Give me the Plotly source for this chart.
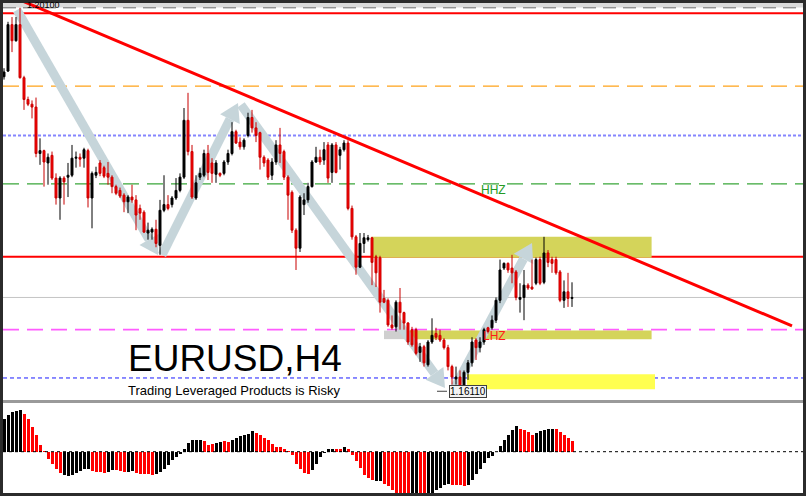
import plotly.graph_objects as go

# ---------------- data (EURUSD H4) ----------------
opens = [1.1943, 1.1949, 1.1998, 1.1981, 1.1998, 1.1942, 1.1919, 1.1914, 1.1911, 1.1862,
         1.1865, 1.1852, 1.1860, 1.1836, 1.1815, 1.1836, 1.1837, 1.1839, 1.1857, 1.1858,
         1.1857, 1.1865, 1.1815, 1.1839, 1.1852, 1.1847, 1.1841, 1.1837, 1.1827, 1.1823,
         1.1818, 1.1811, 1.1816, 1.1813, 1.1804, 1.1800, 1.1778, 1.1779, 1.1782, 1.1765,
         1.1802, 1.1808, 1.1808, 1.1815, 1.1823, 1.1837, 1.1897, 1.1864, 1.1815, 1.1837,
         1.1839, 1.1862, 1.1852, 1.1840, 1.1841, 1.1841, 1.1853, 1.1862, 1.1885, 1.1874,
         1.1869, 1.1881, 1.1900, 1.1889, 1.1884, 1.1858, 1.1855, 1.1839, 1.1853, 1.1871,
         1.1864, 1.1837, 1.1821, 1.1781, 1.1762, 1.1808, 1.1813, 1.1827, 1.1853, 1.1858,
         1.1855, 1.1871, 1.1842, 1.1871, 1.1860, 1.1866, 1.1873, 1.1804, 1.1774, 1.1742,
         1.1767, 1.1771, 1.1773, 1.1753, 1.1752, 1.1709, 1.1707, 1.1681, 1.1679, 1.1705,
         1.1694, 1.1683, 1.1676, 1.1676, 1.1652, 1.1658, 1.1639, 1.1663, 1.1672, 1.1670,
         1.1665, 1.1657, 1.1637, 1.1624, 1.1626, 1.1615, 1.1631, 1.1641, 1.1665, 1.1657,
         1.1663, 1.1678, 1.1678, 1.1686, 1.1707, 1.1741, 1.1746, 1.1741, 1.1737, 1.1708,
         1.1710, 1.1723, 1.1721, 1.1725, 1.1750, 1.1726, 1.1757, 1.1750, 1.1750, 1.1737,
         1.1707, 1.1716, 1.1709]
highs = [1.1952, 1.2001, 1.2006, 1.2006, 1.2016, 1.1944, 1.1922, 1.1918, 1.1921, 1.1878,
         1.1866, 1.1862, 1.1864, 1.1841, 1.1838, 1.1838, 1.1852, 1.1871, 1.1864, 1.1862,
         1.1868, 1.1867, 1.1843, 1.1848, 1.1855, 1.1849, 1.1853, 1.1839, 1.1829, 1.1826,
         1.1820, 1.1818, 1.1829, 1.1818, 1.1808, 1.1802, 1.1789, 1.1784, 1.1792, 1.1813,
         1.1839, 1.1818, 1.1817, 1.1836, 1.1841, 1.1910, 1.1926, 1.1871, 1.1839, 1.1847,
         1.1866, 1.1871, 1.1857, 1.1855, 1.1842, 1.1855, 1.1866, 1.1895, 1.1887, 1.1879,
         1.1878, 1.1905, 1.1908, 1.1895, 1.1885, 1.1860, 1.1857, 1.1857, 1.1876, 1.1889,
         1.1866, 1.1839, 1.1823, 1.1783, 1.1818, 1.1820, 1.1831, 1.1855, 1.1869, 1.1866,
         1.1874, 1.1874, 1.1873, 1.1874, 1.1869, 1.1876, 1.1876, 1.1807, 1.1776, 1.1778,
         1.1778, 1.1776, 1.1774, 1.1755, 1.1754, 1.1718, 1.1709, 1.1691, 1.1707, 1.1720,
         1.1695, 1.1684, 1.1679, 1.1678, 1.1662, 1.1660, 1.1665, 1.1688, 1.1678, 1.1676,
         1.1667, 1.1660, 1.1639, 1.1637, 1.1633, 1.1633, 1.1644, 1.1668, 1.1667, 1.1668,
         1.1678, 1.1679, 1.1691, 1.1710, 1.1750, 1.1747, 1.1747, 1.1755, 1.1739, 1.1725,
         1.1739, 1.1725, 1.1750, 1.1752, 1.1753, 1.1774, 1.1760, 1.1753, 1.1753, 1.1739,
         1.1728, 1.1736, 1.1726]
lows = [1.1940, 1.1948, 1.1969, 1.1980, 1.1941, 1.1908, 1.1912, 1.1899, 1.1858, 1.1850,
        1.1827, 1.1829, 1.1834, 1.1808, 1.1792, 1.1808, 1.1816, 1.1837, 1.1847, 1.1848,
        1.1847, 1.1805, 1.1783, 1.1836, 1.1838, 1.1836, 1.1829, 1.1820, 1.1818, 1.1815,
        1.1800, 1.1799, 1.1810, 1.1781, 1.1792, 1.1778, 1.1771, 1.1771, 1.1763, 1.1755,
        1.1800, 1.1802, 1.1805, 1.1813, 1.1821, 1.1835, 1.1860, 1.1814, 1.1813, 1.1834,
        1.1837, 1.1834, 1.1831, 1.1831, 1.1837, 1.1839, 1.1850, 1.1860, 1.1872, 1.1866,
        1.1866, 1.1879, 1.1884, 1.1874, 1.1845, 1.1848, 1.1834, 1.1834, 1.1850, 1.1852,
        1.1834, 1.1792, 1.1778, 1.1739, 1.1758, 1.1797, 1.1810, 1.1826, 1.1852, 1.1850,
        1.1850, 1.1831, 1.1831, 1.1841, 1.1845, 1.1864, 1.1802, 1.1771, 1.1734, 1.1741,
        1.1757, 1.1769, 1.1723, 1.1721, 1.1694, 1.1704, 1.1679, 1.1676, 1.1674, 1.1676,
        1.1676, 1.1660, 1.1658, 1.1649, 1.1642, 1.1637, 1.1637, 1.1661, 1.1665, 1.1663,
        1.1655, 1.1633, 1.1618, 1.1618, 1.1613, 1.1611, 1.1623, 1.1637, 1.1644, 1.1652,
        1.1660, 1.1672, 1.1676, 1.1683, 1.1704, 1.1739, 1.1736, 1.1725, 1.1707, 1.1694,
        1.1686, 1.1718, 1.1718, 1.1723, 1.1723, 1.1724, 1.1742, 1.1736, 1.1734, 1.1705,
        1.1699, 1.1700, 1.1700]
closes = [1.1948, 1.1998, 1.1981, 1.1998, 1.1942, 1.1919, 1.1914, 1.1911, 1.1862, 1.1865,
          1.1853, 1.1858, 1.1836, 1.1815, 1.1836, 1.1832, 1.1839, 1.1857, 1.1858, 1.1856,
          1.1866, 1.1815, 1.1841, 1.1842, 1.1841, 1.1838, 1.1837, 1.1827, 1.1820, 1.1817,
          1.1811, 1.1816, 1.1813, 1.1797, 1.1799, 1.1779, 1.1781, 1.1782, 1.1767, 1.1802,
          1.1808, 1.1804, 1.1815, 1.1823, 1.1837, 1.1897, 1.1864, 1.1816, 1.1831, 1.1841,
          1.1862, 1.1842, 1.1841, 1.1852, 1.1839, 1.1853, 1.1862, 1.1885, 1.1873, 1.1869,
          1.1876, 1.1900, 1.1889, 1.1881, 1.1858, 1.1852, 1.1837, 1.1853, 1.1871, 1.1862,
          1.1837, 1.1818, 1.1781, 1.1762, 1.1816, 1.1813, 1.1827, 1.1853, 1.1858, 1.1853,
          1.1866, 1.1836, 1.1871, 1.1842, 1.1866, 1.1873, 1.1804, 1.1774, 1.1742, 1.1767,
          1.1773, 1.1773, 1.1747, 1.1736, 1.1705, 1.1705, 1.1681, 1.1678, 1.1705, 1.1694,
          1.1683, 1.1663, 1.1660, 1.1651, 1.1658, 1.1641, 1.1663, 1.1670, 1.1668, 1.1665,
          1.1657, 1.1637, 1.1626, 1.1626, 1.1615, 1.1631, 1.1641, 1.1663, 1.1657, 1.1663,
          1.1676, 1.1674, 1.1686, 1.1707, 1.1739, 1.1746, 1.1739, 1.1736, 1.1710, 1.1710,
          1.1723, 1.1720, 1.1719, 1.1750, 1.1725, 1.1757, 1.1747, 1.1746, 1.1736, 1.1707,
          1.1716, 1.1709, 1.1710]

# oscillator histogram (lower window) and its colour state (1 = black, 0 = red)
osc = [33, 37, 40, 41, 42, 38, 33, 25, 17, 7,
       0.3, -7, -12, -17, -21, -23, -24, -23, -21, -19,
       -17, -17, -19, -20, -20, -21, -20, -18, -18, -19,
       -20, -20, -19, -21, -22, -22, -22, -23, -22, -20,
       -17, -13, -8, -5, -2, 3, 9, 12, 12, 12,
       11, 7, 8, 9, 10, 11, 10, 12, 14, 16,
       17, 18, 21, 19, 17, 14, 12, 8, 5, 5,
       3, 0.3, -3, -12, -17, -21, -22, -18, -12, -5,
       -1, 3, 3, 3, 3, 5, 3, -3, -9, -16,
       -23, -26, -28, -29, -29, -32, -34, -38, -42, -44,
       -44, -44, -44, -45, -45, -45, -44, -45, -38, -36,
       -33, -32, -33, -33, -33, -34, -33, -28, -22, -17,
       -11, -6, -4, -0.3, 6, 12, 17, 22, 26, 23,
       22, 20, 17, 19, 21, 22, 23, 23, 23, 20,
       17, 14, 11]
osc_state = ([1] * 5 + [0] * 10 + [1] * 7 + [0] * 4 + [1] * 2 + [0] * 3 + [1] * 2 + [0] * 5 +
             [1] * 12 + [0] * 3 + [1] * 2 + [0] * 2 + [1] * 6 + [0] * 14 + [1] * 6 + [0] * 2 +
             [1] * 1 + [0] * 7 + [1] * 2 + [0] * 7 + [1] * 2 + [0] * 2 + [1] * 6 + [0] * 4 +
             [1] * 13 + [0] * 4 + [1] * 5 + [0] * 5)

# horizontal levels (prices)
LVL_TOP_DASH = 1.2016
LVL_TOP_RED = 1.2010
LVL_ORANGE = 1.1933
LVL_BLUE_DOT = 1.1881
LVL_GREEN = 1.1830
LVL_RED = 1.1753
LVL_MAGENTA = 1.1676
LVL_BLUE_DASH = 1.1625

bars = list(range(len(opens)))

# ---------------- geometry of the reference window ----------------
W, H = 806, 496
PRICE_PER_PX = 0.00010556
PX_PER_BAR = 4
MAIN_TOP_PX, MAIN_BOT_PX = 3, 400
SUB_TOP_PX, SUB_BOT_PX = 403, 493
LEFT_PX, RIGHT_PX = 3, 803
Y_MAIN_RANGE = [1.2024 - MAIN_BOT_PX * PRICE_PER_PX, 1.2024 - MAIN_TOP_PX * PRICE_PER_PX]
X_RANGE = [-0.25, 199.75]
SUB_RANGE = [-41.3, 48.7]


def px(x):
    return x / W


def py(y):
    return 1 - y / H


fig = go.Figure()

fig.add_trace(go.Candlestick(
    x=bars, open=opens, high=highs, low=lows, close=closes,
    increasing=dict(line=dict(color="#000000", width=1), fillcolor="#000000"),
    decreasing=dict(line=dict(color="#c80000", width=1), fillcolor="#ff0000"),
    whiskerwidth=0, showlegend=False, hoverinfo="skip",
))

fig.add_trace(go.Bar(
    x=bars, y=osc, yaxis="y2", width=0.75,
    marker=dict(color=["#000000" if s else "#ff0000" for s in osc_state], line=dict(width=0)),
    showlegend=False, hoverinfo="skip",
))

shapes = []

# zones (below candles)
zones = [
    (91.9, 161.9, 1.1752, 1.1774, "#d4d45a"),
    (95.0, 101.5, 1.1666, 1.1675, "#cfcfcf"),
    (101.5, 161.9, 1.1666, 1.1675, "#d4d45a"),
    (115.75, 162.75, 1.1613, 1.1629, "#ffff50"),
]
for x0, x1, y0, y1, c in zones:
    shapes.append(dict(type="rect", xref="x", yref="y", x0=x0, x1=x1, y0=y0, y1=y1,
                       fillcolor=c, line=dict(width=0), layer="below"))

# arrows (zig-zag, light grey-blue, below candles)
ARROW_COLOR = "#c6d5da"
arrow_pts = [
    ((3.25, 1.20134), (38.5, 1.17548)),
    ((39.5, 1.17548), (58.5, 1.19153)),
    ((59.25, 1.19132), (110.25, 1.16144)),
    ((112.75, 1.16155), (132.0, 1.17675)),
]
for (ti, tp), (hi, hp) in arrow_pts:
    dx = (hi - ti) * PX_PER_BAR
    dy = (hp - tp) / PRICE_PER_PX
    L = (dx * dx + dy * dy) ** 0.5
    ux, uy = dx / L, dy / L
    head_len, half_w = 18, 11
    bx, by = -ux * head_len, -uy * head_len
    nx, ny = -uy, ux
    base_i = hi + bx / PX_PER_BAR
    base_p = hp + by * PRICE_PER_PX
    p1 = (hi + (bx + nx * half_w) / PX_PER_BAR, hp + (by + ny * half_w) * PRICE_PER_PX)
    p2 = (hi + (bx - nx * half_w) / PX_PER_BAR, hp + (by - ny * half_w) * PRICE_PER_PX)
    shapes.append(dict(type="line", xref="x", yref="y", x0=ti, y0=tp, x1=base_i, y1=base_p,
                       line=dict(color=ARROW_COLOR, width=9), layer="below"))
    shapes.append(dict(type="path", xref="x", yref="y",
                       path=f"M {hi} {hp} L {p1[0]} {p1[1]} L {p2[0]} {p2[1]} Z",
                       fillcolor=ARROW_COLOR, line=dict(width=0), layer="below"))

# horizontal lines
levels = [
    (LVL_TOP_DASH, "#4a4a4a", 1.5, "13px,7px"),
    (LVL_TOP_RED, "#ff0000", 2, "solid"),
    (LVL_ORANGE, "#ffa31a", 1.2, "16px,8px"),
    (LVL_BLUE_DOT, "#8585ff", 2, "3px,2px"),
    (LVL_GREEN, "#3aa63a", 1.2, "16px,8px"),
    (LVL_RED, "#ff0000", 2, "solid"),
    (closes[-1], "#c4c4c4", 1, "solid"),
    (LVL_MAGENTA, "#ff5cff", 1.6, "16px,8px"),
    (LVL_BLUE_DASH, "#1a1aff", 1, "4px,3px"),
]
for lv, c, w, d in levels:
    shapes.append(dict(type="line", xref="x domain", yref="y", x0=0, x1=1, y0=lv, y1=lv,
                       line=dict(color=c, width=w, dash=d), layer="below"))

# top light band
shapes.append(dict(type="rect", xref="paper", yref="paper", x0=px(LEFT_PX), x1=px(RIGHT_PX),
                   y0=py(7.5), y1=py(MAIN_TOP_PX), fillcolor="#dadada", line=dict(width=0),
                   layer="above"))
# separator between the windows
shapes.append(dict(type="rect", xref="paper", yref="paper", x0=px(LEFT_PX), x1=px(RIGHT_PX),
                   y0=py(SUB_TOP_PX), y1=py(MAIN_BOT_PX), fillcolor="#9a9a9a", line=dict(width=0),
                   layer="above"))

# trendline
shapes.append(dict(type="line", xref="x", yref="y", x0=4, y0=1.2024, x1=197, y1=1.1680,
                   line=dict(color="#ff0000", width=3), layer="above"))

# low label leader
low_idx = min(bars, key=lambda i: lows[i])
low_val = lows[low_idx]
shapes.append(dict(type="line", xref="x", yref="y", x0=low_idx - 6.75, x1=low_idx - 4.25,
                   y0=low_val, y1=low_val, line=dict(color="#404040", width=1), layer="above"))

# zero line of the oscillator
shapes.append(dict(type="line", xref="x domain", yref="y2", x0=0, x1=1, y0=0, y1=0,
                   line=dict(color="#000000", width=1, dash="3px,3px"), layer="above"))

annotations = [
    dict(text="EURUSD,H4", xref="paper", yref="paper", x=px(126), y=py(358),
         xanchor="left", yanchor="middle", showarrow=False,
         font=dict(family="Liberation Sans, Arial", size=37, color="#000000")),
    dict(text="Trading Leveraged Products is Risky", xref="paper", yref="paper", x=px(126), y=py(390),
         xanchor="left", yanchor="middle", showarrow=False,
         font=dict(family="Liberation Sans, Arial", size=13, color="#000000")),
    dict(text="HHZ", xref="paper", yref="paper", x=px(479), y=py(190.5),
         xanchor="left", yanchor="middle", showarrow=False,
         font=dict(family="Liberation Sans, Arial", size=12, color="#249a24")),
    dict(text="LHZ", xref="paper", yref="paper", x=px(481.5), y=py(336),
         xanchor="left", yanchor="middle", showarrow=False,
         font=dict(family="Liberation Sans, Arial", size=12, color="#ff1a1a")),
    dict(text=f"{low_val:.5f}", xref="x", yref="y", x=low_idx, y=low_val, xshift=4,
         xanchor="center", yanchor="middle", showarrow=False,
         bgcolor="#f2f2f2", bordercolor="#404040", borderwidth=1, borderpad=0,
         font=dict(family="Liberation Sans, Arial", size=10, color="#000000")),
    dict(text=f"{LVL_TOP_RED:.5f}", xref="paper", yref="paper", x=px(25), y=py(5),
         xanchor="left", yanchor="middle", showarrow=False,
         font=dict(family="Liberation Sans, Arial", size=9, color="#000000")),
]

fig.update_layout(
    width=W, height=H,
    margin=dict(l=0, r=0, t=0, b=0),
    paper_bgcolor="#2b2b2b", plot_bgcolor="#ffffff",
    showlegend=False,
    xaxis=dict(domain=[px(LEFT_PX), px(RIGHT_PX)], range=X_RANGE, visible=False,
               rangeslider=dict(visible=False), anchor="y"),
    yaxis=dict(domain=[py(MAIN_BOT_PX), py(MAIN_TOP_PX)], range=Y_MAIN_RANGE, visible=False,
               anchor="x"),
    yaxis2=dict(domain=[py(SUB_BOT_PX), py(SUB_TOP_PX)], range=SUB_RANGE, visible=False,
                anchor="x"),
    shapes=shapes,
    annotations=annotations,
    bargap=0,
)

fig.write_html("out.html", config={"displayModeBar": False, "staticPlot": True},
               post_script="document.body.style.margin='0';document.body.style.background='#2b2b2b';")
